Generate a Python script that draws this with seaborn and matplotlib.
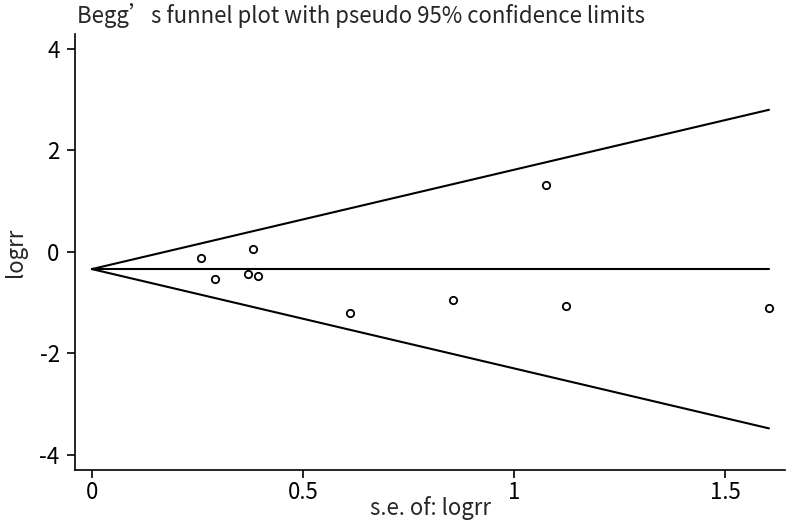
import matplotlib
matplotlib.use("Agg")
import matplotlib.pyplot as plt
import seaborn as sns
import pandas as pd

# Dades llegides del gràfic
se_logrr = [0.258, 0.292, 0.370, 0.381, 0.393, 0.611, 0.855, 1.076, 1.122, 1.604]
logrr = [-0.12, -0.536, -0.443, 0.055, -0.483, -1.21, -0.94, 1.32, -1.07, -1.11]

# Límits del funnel (pseudo 95%)
se_ends = [0, 1.604]
center_line = [-0.34, -0.34]
upper_line = [-0.34, 2.80]
lower_line = [-0.34, -3.48]

x_ticks = [0, 0.5, 1, 1.5]
x_tick_labels = ["0", "0.5", "1", "1.5"]
y_ticks = [-4, -2, 0, 2, 4]

points = pd.DataFrame({"se": se_logrr, "logrr": logrr})

sns.set_style("white")
plt.rcParams['font.family'] = ['Noto Sans CJK SC', 'DejaVu Sans']
plt.rcParams['axes.unicode_minus'] = False

fig = plt.figure(figsize=(7.87, 5.26), dpi=100)
ax = fig.add_axes([0.0953, 0.1065, 0.9022, 0.8285])

for yy in [center_line, upper_line, lower_line]:
    sns.lineplot(x=se_ends, y=yy, ax=ax, color="black", linewidth=1.5)

sns.scatterplot(data=points, x="se", y="logrr", ax=ax, marker="o", s=28,
                facecolor="white", edgecolor="black", linewidth=1.3, zorder=3)

ax.set_xlim(-0.040, 1.642)
ax.set_ylim(-4.3, 4.29)
ax.set_xticks(x_ticks)
ax.set_xticklabels(x_tick_labels)
ax.set_yticks(y_ticks)

ax.spines["top"].set_visible(False)
ax.spines["right"].set_visible(False)
for s in ["left", "bottom"]:
    ax.spines[s].set_color("black")
    ax.spines[s].set_linewidth(1.2)

ax.tick_params(axis="both", direction="out", length=6, width=1.2, colors="black",
               labelsize=16, bottom=True, left=True)
ax.tick_params(axis="y", pad=5)
ax.tick_params(axis="x", pad=2)

ax.set_xlabel("s.e. of: logrr", fontsize=16, labelpad=-6)
ax.set_ylabel("logrr", fontsize=16, labelpad=9)
ax.set_title("Begg’s funnel plot with pseudo 95% confidence limits",
             fontsize=16, loc="left", x=0.003, pad=8)

fig.savefig("out.png", dpi=100)
